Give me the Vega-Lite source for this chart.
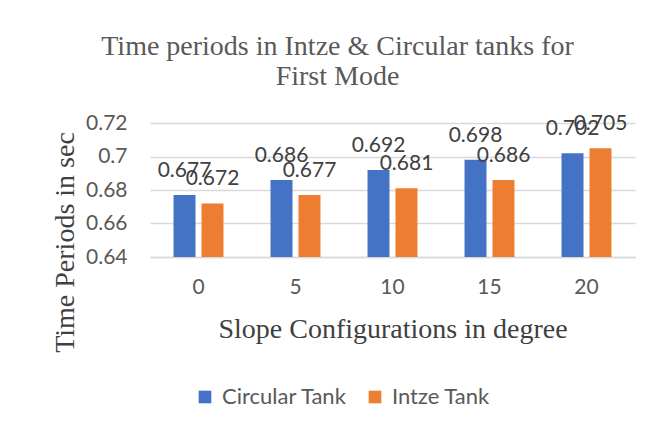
{
  "$schema": "https://vega.github.io/schema/vega-lite/v6.json",
  "width": 485,
  "height": 134,
  "autosize": {"type": "none"},
  "padding": {"left": 150, "top": 123, "right": 33, "bottom": 175},
  "background": "white",
  "title": {
    "text": ["Time periods in Intze & Circular tanks for", "First Mode"],
    "font": "Liberation Serif",
    "fontSize": 28,
    "fontWeight": "normal",
    "color": "#595959",
    "lineHeight": 30,
    "anchor": "middle",
    "dx": -55,
    "offset": 21
  },
  "data": {
    "values": [
      {"slope": "0", "tank": "Circular Tank", "period": 0.677},
      {"slope": "0", "tank": "Intze Tank", "period": 0.672},
      {"slope": "5", "tank": "Circular Tank", "period": 0.686},
      {"slope": "5", "tank": "Intze Tank", "period": 0.677},
      {"slope": "10", "tank": "Circular Tank", "period": 0.692},
      {"slope": "10", "tank": "Intze Tank", "period": 0.681},
      {"slope": "15", "tank": "Circular Tank", "period": 0.698},
      {"slope": "15", "tank": "Intze Tank", "period": 0.686},
      {"slope": "20", "tank": "Circular Tank", "period": 0.702},
      {"slope": "20", "tank": "Intze Tank", "period": 0.705}
    ]
  },
  "encoding": {
    "x": {
      "field": "slope",
      "type": "ordinal",
      "sort": ["0", "5", "10", "15", "20"],
      "scale": {"paddingInner": 0.485, "paddingOuter": 0.2425},
      "axis": {
        "title": "Slope Configurations in degree",
        "titleFont": "Liberation Serif",
        "titleFontSize": 28,
        "titleFontWeight": "normal",
        "titleColor": "#404040",
        "titleBaseline": "alphabetic",
        "titleY": 80,
        "labelAngle": 0,
        "labelFont": "Lato",
        "labelFontSize": 21,
        "labelColor": "#595959",
        "labelPadding": 19,
        "ticks": false,
        "domainColor": "#d9d9d9",
        "domainWidth": 1.5
      }
    },
    "xOffset": {
      "field": "tank",
      "type": "nominal",
      "scale": {"paddingInner": 0.214, "paddingOuter": 0}
    },
    "y": {
      "field": "period",
      "type": "quantitative",
      "scale": {"domain": [0.64, 0.72], "nice": false, "zero": false},
      "axis": {
        "title": "Time Periods in sec",
        "titleFont": "Liberation Serif",
        "titleFontSize": 28,
        "titleFontWeight": "normal",
        "titleColor": "#404040",
        "titleX": -77,
        "titleY": 119,
        "titleBaseline": "alphabetic",
        "values": [0.64, 0.66, 0.68, 0.7, 0.72],
        "format": ".2~f",
        "labelFont": "Lato",
        "labelFontSize": 21,
        "labelColor": "#595959",
        "labelPadding": 23,
        "labelOverlap": false,
        "ticks": false,
        "domain": false,
        "gridColor": "#d9d9d9",
        "gridWidth": 1.5
      }
    }
  },
  "layer": [
    {
      "mark": {"type": "bar"},
      "encoding": {
        "y2": {"datum": 0.64},
        "color": {
          "field": "tank",
          "type": "nominal",
          "scale": {"domain": ["Circular Tank", "Intze Tank"], "range": ["#4472C4", "#ED7D31"]},
          "legend": {
            "title": null,
            "orient": "none",
            "direction": "horizontal",
            "legendX": 44,
            "legendY": 263,
            "symbolType": "square",
            "symbolSize": 160,
            "symbolStrokeWidth": 0,
            "labelFont": "Lato",
            "labelFontSize": 22,
            "labelColor": "#595959",
            "columnPadding": 17,
            "labelOffset": 6
          }
        }
      }
    },
    {
      "mark": {"type": "text", "font": "Lato", "fontSize": 21, "color": "#404040", "baseline": "alphabetic", "dy": -18},
      "encoding": {
        "text": {"field": "period", "type": "quantitative", "format": ".3f"}
      }
    }
  ],
  "config": {"view": {"stroke": null}}
}
